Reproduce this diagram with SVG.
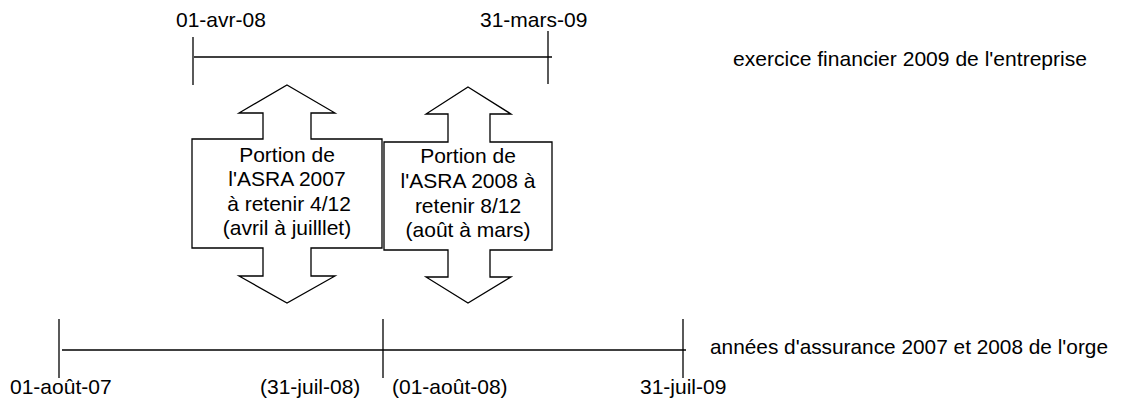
<svg xmlns="http://www.w3.org/2000/svg" width="1124" height="398" viewBox="0 0 1124 398">
<style>
text{font-family:"Liberation Sans",Arial,sans-serif;font-size:21px;fill:#000}
.c{text-anchor:middle}
.ln{stroke:#000;stroke-width:1.3;fill:none}
.sh{stroke:#000;stroke-width:1.3;fill:#fff}
</style>
<rect width="1124" height="398" fill="#fff"/>
<g id="connectors">
<line class="ln" x1="194" y1="57" x2="552" y2="57"/>
<line class="ln" x1="193" y1="37" x2="193" y2="85"/>
<line class="ln" x1="548" y1="31" x2="548" y2="84"/>
<line class="ln" x1="62" y1="350" x2="686" y2="350"/>
<line class="ln" x1="59" y1="319" x2="59" y2="378"/>
<line class="ln" x1="383" y1="319" x2="383" y2="378"/>
<line class="ln" x1="683" y1="319" x2="683" y2="378"/>
</g>
<g id="label-top">
<text x="176" y="27">01-avr-08</text>
<text x="480" y="27">31-mars-09</text>
<text x="733" y="66" textLength="354" lengthAdjust="spacingAndGlyphs">exercice financier 2009 de l'entreprise</text>
</g>
<g id="label-bottom">
<text x="10" y="394">01-août-07</text>
<text x="260" y="394">(31-juil-08)</text>
<text x="392" y="394">(01-août-08)</text>
<text x="640" y="394">31-juil-09</text>
<text x="710" y="354" textLength="398" lengthAdjust="spacingAndGlyphs">années d'assurance 2007 et 2008 de l'orge</text>
</g>
<g id="node-2007">
<path class="sh" d="M287,85 L335,113 L311,113 L311,139 L382,139 L382,248 L311,248 L311,276 L335,276 L287,303 L239,276 L263,276 L263,248 L192,248 L192,139 L263,139 L263,113 L239,113 Z"/>
<text class="c" x="287" y="162">Portion de</text>
<text class="c" x="287" y="186">l'ASRA 2007</text>
<text class="c" x="289" y="210.5">à retenir 4/12</text>
<text class="c" x="287" y="235">(avril à juilllet)</text>
</g>
<g id="node-2008">
<path class="sh" d="M468,87 L511,114 L490,114 L490,142 L552,142 L552,250 L490,250 L490,277 L511,277 L468,303 L426,277 L448,277 L448,250 L384,250 L384,142 L448,142 L448,114 L426,114 Z"/>
<text class="c" x="468" y="163">Portion de</text>
<text class="c" x="468" y="188">l'ASRA 2008 à</text>
<text class="c" x="468" y="213">retenir 8/12</text>
<text class="c" x="468" y="237">(août à mars)</text>
</g>
</svg>
